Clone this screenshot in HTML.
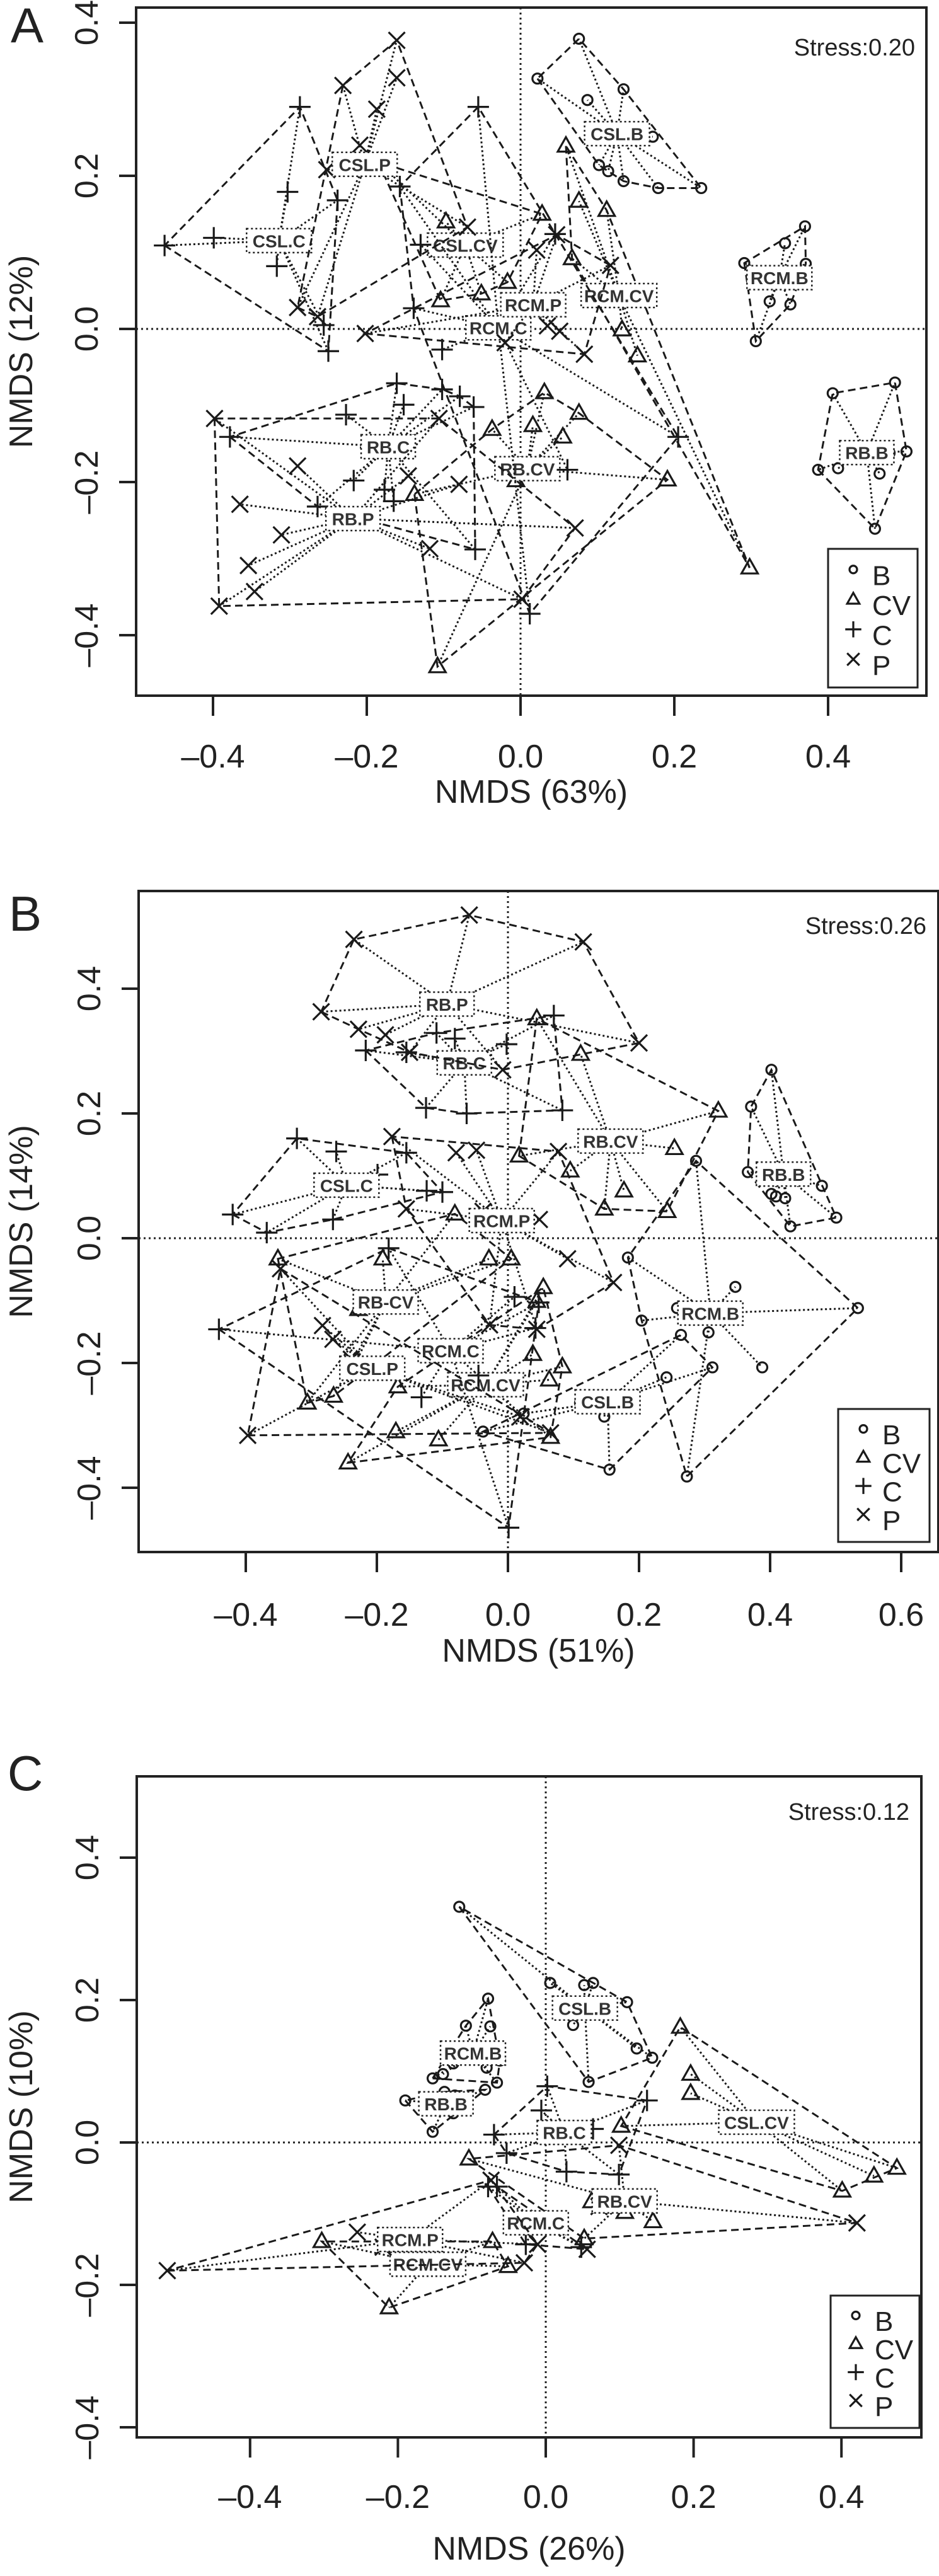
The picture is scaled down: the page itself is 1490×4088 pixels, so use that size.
<!DOCTYPE html>
<html><head><meta charset="utf-8"><style>
html,body{margin:0;padding:0;background:#fff;}
svg{display:block;font-family:"Liberation Sans",Arial,sans-serif;}
</style></head>
<body>
<svg id="fig" width="1490" height="4088" viewBox="0 0 1490 4088" xmlns="http://www.w3.org/2000/svg"></svg>
<script>
// ---------- Panel A data (NMDS1, NMDS2, type) ----------
const A_groupNames = ["CSL.B","RCM.B","RB.B","CSL.CV","RCM.CV","RB.CV","CSL.C","RCM.C","RB.C","CSL.P","RCM.P","RB.P"];
const A_CSL_B = [[0.022,0.327],[0.076,0.379],[0.087,0.299],[0.134,0.313],[0.172,0.251],[0.102,0.214],[0.114,0.206],[0.134,0.193],[0.179,0.184],[0.235,0.184]];
const A_RCM_B = [[0.291,0.086],[0.344,0.112],[0.370,0.134],[0.371,0.085],[0.324,0.036],[0.351,0.032],[0.306,-0.016]];
const A_RB_B = [[0.406,-0.084],[0.487,-0.070],[0.502,-0.160],[0.387,-0.184],[0.413,-0.182],[0.467,-0.189],[0.461,-0.261],[0.480,-0.162]];
const A_CSL_CV = [[-0.185,0.218],[-0.097,0.140],[-0.077,0.114],[0.028,0.150],[-0.017,0.061],[-0.051,0.046],[-0.104,0.037]];
const A_RCM_CV = [[0.059,0.239],[0.076,0.167],[0.112,0.155],[0.067,0.092],[0.132,-0.001],[0.152,-0.035],[0.298,-0.312]];
const A_RB_CV = [[0.031,-0.083],[0.076,-0.110],[0.016,-0.126],[0.055,-0.141],[-0.037,-0.131],[-0.006,-0.198],[0.191,-0.197],[-0.138,-0.216],[-0.108,-0.441]];
const A_CSL_C = [[-0.287,0.290],[-0.303,0.179],[-0.238,0.168],[-0.463,0.109],[-0.399,0.119],[-0.317,0.082],[-0.256,0.005],[-0.250,-0.029]];
const A_RCM_C = [[-0.055,0.290],[-0.157,0.186],[-0.130,0.110],[-0.139,0.027],[-0.102,-0.027],[0.045,0.124],[0.205,-0.141],[0.061,-0.184],[0.012,-0.372]];
const A_RB_C = [[-0.161,-0.071],[-0.102,-0.079],[-0.152,-0.099],[-0.079,-0.088],[-0.061,-0.102],[-0.227,-0.112],[-0.195,-0.155],[-0.217,-0.198],[-0.177,-0.210],[-0.165,-0.225],[-0.264,-0.232],[-0.059,-0.288],[-0.378,-0.141]];
const A_CSL_P = [[-0.161,0.377],[-0.161,0.328],[-0.231,0.318],[-0.187,0.287],[-0.209,0.240],[-0.252,0.208],[-0.069,0.133],[-0.290,0.028],[-0.264,0.016]];
const A_RCM_P = [[0.047,0.123],[0.021,0.103],[0.117,0.083],[-0.202,-0.006],[0.035,0.004],[0.051,-0.003],[-0.020,-0.018],[0.083,-0.033]];
const A_RB_P = [[-0.398,-0.117],[-0.290,-0.179],[-0.106,-0.117],[-0.146,-0.192],[-0.080,-0.203],[-0.365,-0.229],[-0.311,-0.269],[0.071,-0.260],[-0.118,-0.287],[-0.354,-0.309],[-0.346,-0.343],[-0.392,-0.362],[0.002,-0.353]];
const A_xTicks = [-0.4,-0.2,0.0,0.2,0.4];
const A_yTicks = [-0.4,-0.2,0.0,0.2,0.4];

// ---------- Panel B data ----------
const B_groupNames = ["RB.B","RCM.B","CSL.B","RB.CV","RB-CV","RCM.CV","RB.C","CSL.C","RCM.C","RB.P","RCM.P","CSL.P"];
const B_RB_B = [[0.402,0.270],[0.371,0.211],[0.366,0.106],[0.402,0.071],[0.423,0.064],[0.479,0.084],[0.501,0.033],[0.431,0.019],[0.409,0.067]];
const B_RCM_B = [[0.183,-0.031],[0.347,-0.078],[0.534,-0.112],[0.258,-0.112],[0.204,-0.132],[0.306,-0.151],[0.388,-0.207],[0.287,0.124],[0.273,-0.382]];
const B_CSL_B = [[0.264,-0.155],[0.312,-0.207],[0.242,-0.223],[0.110,-0.264],[0.147,-0.286],[0.024,-0.281],[-0.038,-0.310],[0.155,-0.371]];
const B_RB_CV = [[0.044,0.352],[0.111,0.295],[0.321,0.204],[0.254,0.144],[0.017,0.132],[0.095,0.108],[0.177,0.076],[0.147,0.047],[0.243,0.043]];
const B_RBd_CV = [[-0.081,0.039],[-0.191,-0.033],[-0.351,-0.033],[-0.228,-0.114],[-0.231,-0.196],[-0.266,-0.253],[-0.306,-0.264],[-0.029,-0.033],[0.005,-0.033]];
const B_RCM_CV = [[0.054,-0.079],[0.044,-0.101],[0.038,-0.186],[0.083,-0.206],[0.063,-0.227],[-0.168,-0.238],[-0.171,-0.310],[-0.106,-0.323],[0.065,-0.319],[-0.244,-0.360]];
const B_RB_C = [[0.070,0.357],[-0.081,0.320],[-0.109,0.329],[-0.002,0.311],[-0.217,0.301],[-0.155,0.298],[-0.125,0.209],[-0.063,0.200],[0.083,0.205]];
const B_CSL_C = [[-0.322,0.160],[-0.262,0.139],[-0.155,0.137],[-0.199,0.102],[-0.124,0.076],[-0.100,0.074],[-0.420,0.038],[-0.368,0.009],[-0.267,0.030]];
const B_RCM_C = [[-0.182,-0.016],[0.010,-0.094],[0.047,-0.103],[0.042,-0.144],[-0.045,-0.220],[-0.132,-0.255],[0.001,-0.464],[-0.441,-0.146]];
const B_RB_P = [[-0.059,0.518],[-0.235,0.479],[0.115,0.475],[-0.285,0.363],[-0.228,0.335],[-0.187,0.326],[0.200,0.313],[-0.150,0.298],[-0.008,0.270]];
const B_RCM_P = [[-0.177,0.163],[-0.048,0.141],[0.077,0.139],[-0.079,0.137],[-0.155,0.047],[-0.038,0.043],[0.048,0.030],[0.091,-0.033],[0.161,-0.071],[-0.028,-0.139],[0.044,-0.146]];
const B_CSL_P = [[-0.283,-0.140],[-0.267,-0.162],[-0.397,-0.316],[-0.347,-0.049],[-0.239,-0.194],[0.019,-0.286],[0.065,-0.312]];
const B_xTicks = [-0.4,-0.2,0.0,0.2,0.4,0.6];
const B_yTicks = [-0.4,-0.2,0.0,0.2,0.4];

// ---------- Panel C data ----------
const C_groupNames = ["CSL.B","RCM.B","RB.B","CSL.CV","RB.CV","RCM.CV","RB.C","RCM.C","RCM.P"];
const C_CSL_B = [[-0.117,0.331,"B"],[0.006,0.224,"B"],[0.052,0.221,"B"],[0.064,0.224,"B"],[0.110,0.197,"B"],[0.037,0.165,"B"],[0.123,0.132,"B"],[0.144,0.119,"B"],[0.058,0.085,"B"]];
const C_RCM_B = [[-0.078,0.202,"B"],[-0.108,0.164,"B"],[-0.075,0.163,"B"],[-0.080,0.105,"B"],[-0.062,0.115,"B"],[-0.066,0.084,"B"],[-0.125,0.111,"B"],[-0.139,0.096,"B"],[-0.153,0.090,"B"]];
const C_RB_B = [[-0.190,0.059,"B"],[-0.153,0.015,"B"],[-0.125,0.041,"B"],[-0.082,0.074,"B"],[-0.137,0.071,"B"],[-0.123,0.066,"B"]];
const C_CSL_CV = [[0.182,0.162,"CV"],[0.196,0.096,"CV"],[0.196,0.069,"CV"],[0.475,-0.036,"CV"],[0.444,-0.047,"CV"],[0.401,-0.068,"CV"],[0.102,0.023,"CV"]];
const C_RB_CV = [[-0.104,-0.023,"CV"],[0.107,-0.098,"CV"],[0.145,-0.111,"CV"],[0.062,-0.083,"CV"],[0.052,-0.135,"CV"],[0.099,-0.004,"P"],[0.421,-0.113,"P"],[0.072,-0.090,"P"]];
const C_RCM_CV = [[-0.303,-0.139,"CV"],[-0.212,-0.232,"CV"],[-0.051,-0.174,"CV"],[-0.072,-0.139,"CV"]];
const C_RB_C = [[0.002,0.079,"C"],[0.137,0.059,"C"],[-0.006,0.045,"C"],[-0.070,0.011,"C"],[0.064,0.019,"C"],[-0.053,-0.015,"C"],[0.028,-0.041,"C"],[0.099,-0.045,"C"]];
const C_RCM_C = [[-0.078,-0.062,"C"],[-0.066,-0.062,"C"],[-0.027,-0.143,"C"],[0.048,-0.147,"C"],[0.056,-0.150,"P"]];
const C_RCM_P = [[-0.512,-0.180,"P"],[-0.255,-0.126,"P"],[-0.220,-0.147,"P"],[-0.029,-0.169,"P"],[-0.011,-0.143,"P"],[-0.074,-0.053,"P"]];
const C_xTicks = [-0.4,-0.2,0.0,0.2,0.4];
const C_yTicks = [-0.4,-0.2,0.0,0.2,0.4];

const legendLabels = ["B","CV","C","P"];

const NS = "http://www.w3.org/2000/svg";
const svg = document.getElementById("fig");
function mk(tag, attrs, parent, text){
  const e = document.createElementNS(NS, tag);
  for (const k in attrs) e.setAttribute(k, attrs[k]);
  if (text !== undefined) e.textContent = text;
  (parent || svg).appendChild(e);
  return e;
}
function typeOf(name){
  return name.split(/[.\-]/).pop();
}
function hull(pts){
  const p = pts.map(q=>[q[0],q[1]]).sort((a,b)=>a[0]-b[0]||a[1]-b[1]);
  if (p.length < 3) return p;
  const cr=(o,a,b)=>(a[0]-o[0])*(b[1]-o[1])-(a[1]-o[1])*(b[0]-o[0]);
  const lo=[],up=[];
  for (const q of p){ while(lo.length>=2&&cr(lo[lo.length-2],lo[lo.length-1],q)<=0) lo.pop(); lo.push(q); }
  for (let i=p.length-1;i>=0;i--){ const q=p[i]; while(up.length>=2&&cr(up[up.length-2],up[up.length-1],q)<=0) up.pop(); up.push(q); }
  up.pop(); lo.pop();
  return lo.concat(up);
}
function marker(g, t, px, py, s){
  s = s || 1;
  const st = {stroke:"#1a1a1a", "stroke-width":3.2, fill:"none"};
  let e;
  if (t === "B") e = mk("circle", Object.assign({cx:px, cy:py, r:8*s}, st), g);
  else if (t === "CV") e = mk("polygon", Object.assign({points:`${px},${py-14*s} ${px-13*s},${py+9*s} ${px+13*s},${py+9*s}`}, st), g);
  else if (t === "C") e = mk("path", Object.assign({d:`M${px-17*s},${py}H${px+17*s}M${px},${py-17*s}V${py+17*s}`}, st), g);
  else e = mk("path", Object.assign({d:`M${px-13*s},${py-13*s}L${px+13*s},${py+13*s}M${px-13*s},${py+13*s}L${px+13*s},${py-13*s}`}, st), g);
  return e;
}

function panel(cfg){
  const {id, letter, box, x0, y0, sx, sy, xTicks, yTicks, xTitle, yTitle, stress, stressPos, letterPos, legend, groupNames, groups} = cfg;
  const X = v => x0 + v*sx;
  const Y = v => y0 - v*sy;
  const g = mk("g", {});
  
  
  const lt = mk("text", {x:letterPos[0], y:letterPos[1], "font-size":78, "text-anchor":"middle", "dominant-baseline":"central", fill:"#222"}, g, letter);
  
  

  const clipId = "clip"+id;
  const cp = mk("clipPath", {id:clipId}, g);
  mk("rect", {x:box[0], y:box[1], width:box[2]-box[0], height:box[3]-box[1]}, cp);
  const plot = mk("g", {"clip-path":`url(#${clipId})`}, g);
  
  

  const vz = mk("line", {x1:X(0), x2:X(0), y1:box[1], y2:box[3], stroke:"#222", "stroke-width":3, "stroke-dasharray":"3 5"}, plot);
  
  
  const hz = mk("line", {x1:box[0], x2:box[2], y1:Y(0), y2:Y(0), stroke:"#222", "stroke-width":3, "stroke-dasharray":"3 5"}, plot);
  
  

  groups.forEach((pts, gi) => {
    const name = groupNames[gi];
    const grp = mk("g", {}, plot);
    
    
    const cx = pts.reduce((a,p)=>a+p[0],0)/pts.length;
    const cy = pts.reduce((a,p)=>a+p[1],0)/pts.length;
    const h = hull(pts);
    const hp = mk("polygon", {points:h.map(p=>`${X(p[0])},${Y(p[1])}`).join(" "), fill:"none", stroke:"#1a1a1a", "stroke-width":3, "stroke-dasharray":"12 7"}, grp);
    
    
    pts.forEach(p => {
      const sl = mk("line", {x1:X(cx), y1:Y(cy), x2:X(p[0]), y2:Y(p[1]), stroke:"#1a1a1a", "stroke-width":3, "stroke-dasharray":"3 4"}, grp);
      
      
    });
    pts.forEach(p => {
      const t = p[2] || typeOf(name);
      const m = marker(grp, t, X(p[0]), Y(p[1]));
      
      
    });
    const w = name.length*17 + 18;
    const lb = mk("rect", {x:X(cx)-w/2, y:Y(cy)-19, width:w, height:38, fill:"#fff", stroke:"#222", "stroke-width":2.5, "stroke-dasharray":"3 4"}, grp);
    
    
    const lx = mk("text", {x:X(cx), y:Y(cy)+1, "font-size":28, "font-weight":"bold", "text-anchor":"middle", "dominant-baseline":"central", fill:"#333"}, grp, name);
    
    
  });

  const fr = mk("rect", {x:box[0], y:box[1], width:box[2]-box[0], height:box[3]-box[1], fill:"none", stroke:"#222", "stroke-width":4}, g);
  
  

  xTicks.forEach(v => {
    const tk = mk("line", {x1:X(v), x2:X(v), y1:box[3], y2:box[3]+32, stroke:"#222", "stroke-width":4}, g);
    
    
    const tl = mk("text", {x:X(v), y:cfg.xLabelY, "font-size":52, "text-anchor":"middle", "dominant-baseline":"central", fill:"#222"}, g, (v<0?"\u2013":"")+Math.abs(v).toFixed(1));
    
    
  });
  yTicks.forEach(v => {
    const tk = mk("line", {x1:box[0]-27, x2:box[0], y1:Y(v), y2:Y(v), stroke:"#222", "stroke-width":4}, g);
    
    
    const lx = box[0]-78, ly = Y(v);
    const tl = mk("text", {x:lx, y:ly, "font-size":52, "text-anchor":"middle", "dominant-baseline":"central", fill:"#222", transform:`rotate(-90 ${lx} ${ly})`}, g, (v<0?"\u2013":"")+Math.abs(v).toFixed(1));
    
    
  });
  const xt = mk("text", {x:(box[0]+box[2])/2, y:cfg.xTitleY, "font-size":52, "text-anchor":"middle", "dominant-baseline":"central", fill:"#222"}, g, xTitle);
  
  
  const ym = (box[1]+box[3])/2;
  const yt = mk("text", {x:34, y:ym, "font-size":52, "text-anchor":"middle", "dominant-baseline":"central", fill:"#222", transform:`rotate(-90 34 ${ym})`}, g, yTitle);
  
  
  const sl = mk("text", {x:stressPos[0], y:stressPos[1], "font-size":38, "text-anchor":"end", "dominant-baseline":"central", fill:"#222"}, g, stress);
  
  

  const lg = mk("g", {}, g);
  
  
  const lr = mk("rect", {x:legend[0], y:legend[1], width:legend[2]-legend[0], height:legend[3]-legend[1], fill:"#fff", stroke:"#222", "stroke-width":3}, lg);
  
  
  const rowH = (legend[3]-legend[1]-30)/4;
  legendLabels.forEach((lab, i) => {
    const cy = legend[1] + 15 + rowH*(i+0.5);
    const m = marker(lg, lab, legend[0]+40, cy-6, 0.75);
    
    
    const t = mk("text", {x:legend[0]+70, y:cy+4, "font-size":44, "dominant-baseline":"central", fill:"#222"}, lg, lab);
    
    
  });
}

panel({id:"a", letter:"A", letterPos:[43,40], box:[216,12,1470,1104], x0:826, y0:522, sx:1220, sy:1215,
  xTicks:A_xTicks, yTicks:A_yTicks, xLabelY:1201, xTitleY:1257, xTitle:"NMDS (63%)", yTitle:"NMDS (12%)",
  stress:"Stress:0.20", stressPos:[1452,76], legend:[1314,871,1456,1091],
  groupNames:A_groupNames, groups:[A_CSL_B,A_RCM_B,A_RB_B,A_CSL_CV,A_RCM_CV,A_RB_CV,A_CSL_C,A_RCM_C,A_RB_C,A_CSL_P,A_RCM_P,A_RB_P]});
panel({id:"b", letter:"B", letterPos:[40,1450], box:[220,1414,1489,2463], x0:806, y0:1965, sx:1040, sy:990,
  xTicks:B_xTicks, yTicks:B_yTicks, xLabelY:2563, xTitleY:2620, xTitle:"NMDS (51%)", yTitle:"NMDS (14%)",
  stress:"Stress:0.26", stressPos:[1470,1470], legend:[1330,2236,1475,2447],
  groupNames:B_groupNames, groups:[B_RB_B,B_RCM_B,B_CSL_B,B_RB_CV,B_RBd_CV,B_RCM_CV,B_RB_C,B_CSL_C,B_RCM_C,B_RB_P,B_RCM_P,B_CSL_P]});
panel({id:"c", letter:"C", letterPos:[40,2814], box:[217,2819,1462,3868], x0:866, y0:3400, sx:1173, sy:1130,
  xTicks:C_xTicks, yTicks:C_yTicks, xLabelY:3963, xTitleY:4045, xTitle:"NMDS (26%)", yTitle:"NMDS (10%)",
  stress:"Stress:0.12", stressPos:[1443,2876], legend:[1318,3643,1459,3853],
  groupNames:C_groupNames, groups:[C_CSL_B,C_RCM_B,C_RB_B,C_CSL_CV,C_RB_CV,C_RCM_CV,C_RB_C,C_RCM_C,C_RCM_P]});
</script>
</body></html>
